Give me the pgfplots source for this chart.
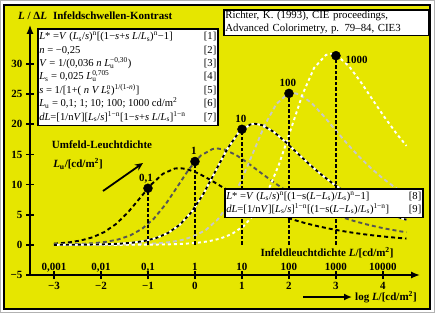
\documentclass[border=0pt]{standalone}
\usepackage{fontspec}
\setmainfont{Liberation Serif}
\usepackage{pgfplots}
\pgfplotsset{compat=1.18}
\usetikzlibrary{arrows.meta}
\definecolor{bgyellow}{RGB}{230,230,0}
\definecolor{dgray}{RGB}{85,85,85}
\definecolor{lgray}{RGB}{200,200,200}
\newcommand{\Ls}{\textit{L}\textsubscript{s}}
\newcommand{\Lu}{\textit{L}\textsubscript{u}}
\newcommand{\subsup}[2]{\rlap{\textsubscript{#1}}\textsuperscript{#2}}
\newcommand{\bfl}{\fontsize{11}{13}\selectfont\bfseries}
\begin{document}
\begin{tikzpicture}
\useasboundingbox (0,0) rectangle (435pt,-313pt);
\fill[white] (0,0) rectangle (435pt,-313pt);
\draw[gray!60, line width=1pt] (0.5pt,-0.5pt) rectangle (434.5pt,-312.5pt);
\draw[line width=2pt, fill=bgyellow] (4pt,-5pt) rectangle (430pt,-309pt);
\begin{axis}[
 at={(30pt,-275pt)}, anchor=south west,
 scale only axis, width=390.1pt, height=250.2pt,
 xmin=-3.51, xmax=4.79, ymin=-5, ymax=36.5,
 axis x line=bottom, axis y line=left,
 axis line style={line width=1.6pt, -{Latex[length=9pt,width=7pt]}},
 xtick={-3,-2,-1,0,1,2,3,4}, xticklabels={−3,−2,−1,0,1,2,3,4},
 ytick={-5,0,5,10,15,20,25,30}, yticklabels={−5,0,5,10,15,20,25,30},
 tick style={black, line width=1.6pt}, major tick length=8pt, tick align=center,
 ticklabel style={font=\bfl},
 clip=false,
]
% Lu = 0.1
\addplot[black, line width=1.9pt, dash pattern=on 4pt off 3pt] coordinates {
(-3,0.201)(-2.931,0.235)(-2.681,0.414)(-2.431,0.724)(-2.181,1.249)(-1.931,2.112)(-1.681,3.448)(-1.431,5.337)(-1.181,7.659)(-0.931,10.003)(-0.681,11.794)(-0.431,12.654)(-0.329,12.728)(-0.181,12.590)(0.069,11.876)(0.319,10.819)(0.569,9.649)(0.819,8.498)(1.069,7.430)(1.319,6.469)(1.569,5.619)(1.819,4.875)(2.069,4.225)(2.319,3.661)(2.569,3.171)(2.819,2.747)(3.069,2.379)(3.319,2.060)(3.569,1.784)(3.819,1.545)(4.069,1.338)(4.319,1.159)(4.5,1.044)};
% Lu = 1
\addplot[dgray, line width=1.9pt, dash pattern=on 4pt off 3pt] coordinates {
(-3,0.040)(-2.877,0.053)(-2.627,0.094)(-2.377,0.167)(-2.127,0.295)(-1.877,0.520)(-1.627,0.909)(-1.377,1.569)(-1.127,2.652)(-0.877,4.330)(-0.627,6.703)(-0.377,9.619)(-0.127,12.563)(0.123,14.814)(0.373,15.893)(0.475,15.986)(0.623,15.813)(0.873,14.916)(1.123,13.589)(1.373,12.119)(1.623,10.674)(1.873,9.332)(2.123,8.125)(2.373,7.058)(2.623,6.122)(2.873,5.307)(3.123,4.598)(3.373,3.983)(3.623,3.450)(3.873,2.988)(4.123,2.587)(4.373,2.241)(4.5,2.082)};
% Lu = 100
\addplot[lgray, line width=1.9pt, dash pattern=on 4pt off 3pt] coordinates {
(-3,0.002)(-2.769,0.003)(-2.519,0.005)(-2.269,0.008)(-2.019,0.015)(-1.769,0.026)(-1.519,0.047)(-1.269,0.084)(-1.019,0.149)(-0.769,0.263)(-0.519,0.466)(-0.269,0.820)(-0.019,1.434)(0.231,2.476)(0.481,4.185)(0.731,6.832)(0.981,10.575)(1.231,15.176)(1.481,19.820)(1.731,23.371)(1.981,25.074)(2.083,25.220)(2.231,24.948)(2.481,23.532)(2.731,21.438)(2.981,19.120)(3.231,16.839)(3.481,14.723)(3.731,12.818)(3.981,11.135)(4.231,9.659)(4.5,8.282)};
% Lu = 1000
\addplot[white, line width=1.9pt, dash pattern=on 3pt off 3pt] coordinates {
(-3,0.000)(-2.715,0.001)(-2.215,0.002)(-1.715,0.006)(-1.215,0.019)(-0.965,0.033)(-0.715,0.059)(-0.465,0.105)(-0.215,0.187)(0.035,0.331)(0.285,0.585)(0.535,1.030)(0.785,1.801)(1.035,3.110)(1.285,5.256)(1.535,8.581)(1.785,13.282)(2.035,19.062)(2.285,24.895)(2.535,29.354)(2.785,31.494)(2.887,31.677)(3.035,31.336)(3.285,29.557)(3.535,26.928)(3.785,24.016)(4.035,21.151)(4.285,18.493)(4.5,16.418)};
% Lu = 10 (white underlay + black dashes)
\addplot[white, line width=1.9pt] coordinates {
(-3,0.008)(-2.823,0.012)(-2.573,0.021)(-2.323,0.038)(-2.073,0.067)(-1.823,0.118)(-1.573,0.210)(-1.323,0.371)(-1.073,0.653)(-0.823,1.142)(-0.573,1.971)(-0.323,3.332)(-0.073,5.441)(0.177,8.421)(0.427,12.085)(0.677,15.784)(0.927,18.611)(1.177,19.968)(1.279,20.084)(1.427,19.867)(1.677,18.740)(1.927,17.072)(2.177,15.226)(2.427,13.410)(2.677,11.725)(2.927,10.208)(3.177,8.867)(3.427,7.692)(3.677,6.667)(3.927,5.777)(4.177,5.004)(4.427,4.334)(4.5,4.156)};
\addplot[black, line width=1.9pt, dash pattern=on 3pt off 3pt] coordinates {
(-3,0.008)(-2.823,0.012)(-2.573,0.021)(-2.323,0.038)(-2.073,0.067)(-1.823,0.118)(-1.573,0.210)(-1.323,0.371)(-1.073,0.653)(-0.823,1.142)(-0.573,1.971)(-0.323,3.332)(-0.073,5.441)(0.177,8.421)(0.427,12.085)(0.677,15.784)(0.927,18.611)(1.177,19.968)(1.279,20.084)(1.427,19.867)(1.677,18.740)(1.927,17.072)(2.177,15.226)(2.427,13.410)(2.677,11.725)(2.927,10.208)(3.177,8.867)(3.427,7.692)(3.677,6.667)(3.927,5.777)(4.177,5.004)(4.427,4.334)(4.5,4.156)};
% vertical lines
\addplot[black, line width=2.6pt, dash pattern=on 3.5pt off 2pt] coordinates {(-1,0)(-1,9.39)};
\addplot[black, line width=2.6pt, dash pattern=on 3.5pt off 2pt] coordinates {(0,0)(0,13.83)};
\addplot[black, line width=2.6pt, dash pattern=on 3.5pt off 2pt] coordinates {(1,0)(1,19.17)};
\addplot[black, line width=2.6pt, dash pattern=on 3.5pt off 2pt] coordinates {(2,0)(2,25.12)};
\addplot[black, line width=2.6pt, dash pattern=on 3.5pt off 2pt] coordinates {(3,0)(3,31.38)};
% dots
\addplot[only marks, mark=*, mark size=4.5pt, black] coordinates {(-1,9.39)(0,13.83)(1,19.17)(2,25.12)(3,31.38)};
% dot labels
\node[font=\bfl, anchor=base, xshift=-2pt, yshift=7pt] at (axis cs:-1,9.39) {0,1};
\node[font=\bfl, anchor=base, xshift=-1pt, yshift=7pt] at (axis cs:0,13.83) {1};
\node[font=\bfl, anchor=base, xshift=-1pt, yshift=7pt] at (axis cs:1,19.17) {10};
\node[font=\bfl, anchor=base, xshift=-1pt, yshift=7pt] at (axis cs:2,25.12) {100};
\node[font=\bfl, anchor=west, xshift=6pt, yshift=-4pt] at (axis cs:3,31.38) {1000};
% upper x labels
\node[font=\bfl, anchor=base, yshift=5pt] at (axis cs:-3,-5) {0,001};
\node[font=\bfl, anchor=base, yshift=5pt] at (axis cs:-2,-5) {0,01};
\node[font=\bfl, anchor=base, yshift=5pt] at (axis cs:-1,-5) {0,1};
\node[font=\bfl, anchor=base, yshift=5pt] at (axis cs:0,-5) {1};
\node[font=\bfl, anchor=base, yshift=5pt] at (axis cs:1,-5) {10};
\node[font=\bfl, anchor=base, yshift=5pt] at (axis cs:2,-5) {100};
\node[font=\bfl, anchor=base, yshift=5pt] at (axis cs:3,-5) {1000};
\node[font=\bfl, anchor=base, yshift=5pt] at (axis cs:4,-5) {10000};
\end{axis}
% title
\node[anchor=west, font=\bfl, inner sep=0pt] at (18pt,-16pt) {\textit{L} / Δ\textit{L}\hspace{6pt}Infeldschwellen-Kontrast};
% formula box 1
\node[anchor=north west, draw, line width=1.6pt, fill=white, inner sep=1.5pt, font=\fontsize{10.6}{13.4}\selectfont] at (37pt,-28pt) {%
\begin{tabular*}{177pt}{@{}l@{\extracolsep{\fill}}r@{}}
\textit{L}* =\textit{V} (\Ls/\textit{s})\textsuperscript{n}[(1−\textit{s}+\textit{s} \textit{L}/\Ls)\textsuperscript{n}−1] & [1]\\
\textit{n} = −0,25 & [2]\\
\textit{V} = 1/(0,036 \textit{n} \textit{L}\subsup{u}{−0,30}) & [3]\\
\Ls{} = 0,025 \textit{L}\subsup{u}{0,705} & [4]\\
\textit{s} = 1/[1+( \textit{n V L}\subsup{s}{n})\textsuperscript{1/(1-\textit{n})}] & [5]\\
\Lu{} = 0,1; 1; 10; 100; 1000 cd/m\textsuperscript{2} & [6]\\
\textit{dL}=[1/n\textit{V}][\Ls/\textit{s}]\textsuperscript{1−n}[1−\textit{s}+\textit{s} \textit{L}/\Ls]\textsuperscript{1−n} & [7]
\end{tabular*}};
% reference box
\node[anchor=north west, draw, line width=1.6pt, fill=white, inner sep=1.5pt, align=left, text width=202pt, font=\fontsize{10.8}{12.8}\selectfont] at (223pt,-9pt) {Richter, K. (1993), CIE proceedings,\\Advanced Colorimetry, p. 79–84, CIE3};
% formula box 2
\node[anchor=north west, draw, line width=1.6pt, fill=white, inner sep=1.5pt, font=\fontsize{10.6}{12.8}\selectfont] at (224pt,-188pt) {%
\begin{tabular*}{195pt}{@{}l@{\extracolsep{\fill}}r@{}}
\textit{L}* =\textit{V} (\Ls/\textit{s})\textsuperscript{n}[(1−s(\textit{L}−\Ls)/\Ls)\textsuperscript{n}−1] & [8]\\
\textit{dL}=[1/n\textit{V}][\Ls/\textit{s}]\textsuperscript{1−n}[(1−s(\textit{L}−\Ls)/\Ls)\textsuperscript{1−n}] & [9]
\end{tabular*}};
% Umfeld labels
\node[font=\bfl] at (102pt,-145pt) {Umfeld-Leuchtdichte};
\node[font=\bfl] at (78pt,-164pt) {\textit{L}\textsubscript{u}/[cd/m\textsuperscript{2}]};
\draw[line width=1.8pt, -{Stealth[length=8pt,width=7pt]}] (103pt,-191pt) -- (143pt,-163pt);
% x axis titles
\node[font=\bfl] at (327pt,-253pt) {Infeldleuchtdichte \textit{L}/[cd/m\textsuperscript{2}]};
\draw[line width=1.8pt, -{Latex[length=8pt,width=7pt]}] (303pt,-297pt) -- (352pt,-297pt);
\node[font=\bfl, anchor=west, inner sep=1pt] at (354pt,-297pt) {log \textit{L}/[cd/m\textsuperscript{2}]};
\end{tikzpicture}
\end{document}
